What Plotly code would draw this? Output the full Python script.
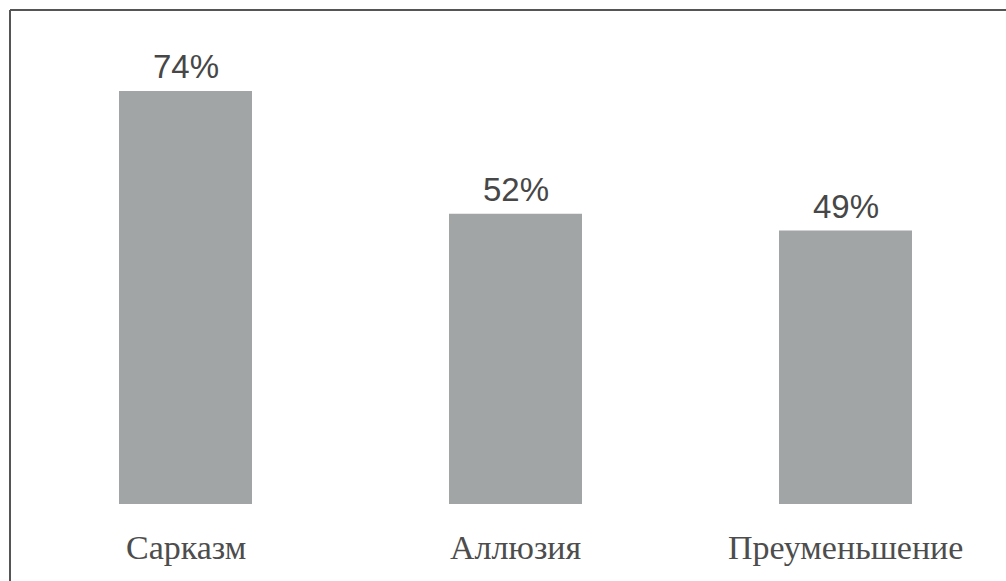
import plotly.graph_objects as go

categories = ["Сарказм", "Аллюзия", "Преуменьшение"]
values = [74, 52, 49]
value_labels = ["74%", "52%", "49%"]

W, H = 1006, 581
BAR_COLOR = "#A2A5A5"
TEXT_COLOR = "#474747"

# pixel geometry of the axes
base_px = 504.0          # y pixel of value 0
px_per_unit = 5.58       # pixels per percentage point
first_center_px = 185.5  # x pixel of first category
step_px = 330.0          # pixels between categories

y_top = base_px / px_per_unit
y_bot = -(H - base_px) / px_per_unit
x_left = -first_center_px / step_px
x_right = (W - first_center_px) / step_px

fig = go.Figure()
fig.add_trace(go.Bar(
    x=list(range(len(categories))),
    y=values,
    width=133 / step_px,
    marker=dict(color=BAR_COLOR, line=dict(width=0)),
    hoverinfo="skip",
))

for i, (v, lab) in enumerate(zip(values, value_labels)):
    fig.add_annotation(x=i, y=v, text=lab, showarrow=False, xref="x", yref="y",
                       yanchor="bottom", yshift=4,
                       font=dict(family="Liberation Sans, Arial, sans-serif", size=33, color=TEXT_COLOR))

for i, c in enumerate(categories):
    fig.add_annotation(x=i, y=1 - 547 / H, text=c, showarrow=False, xref="x", yref="paper",
                       yanchor="middle",
                       font=dict(family="Liberation Serif, Times New Roman, serif", size=34, color="#4d4d4d"))

# frame (top and left visible)
fig.add_shape(type="line", xref="paper", yref="paper", x0=10 / W, x1=1.02, y0=1 - 10 / H, y1=1 - 10 / H,
              line=dict(color="#555555", width=2))
fig.add_shape(type="line", xref="paper", yref="paper", x0=10 / W, x1=10 / W, y0=1 - 10 / H, y1=-0.02,
              line=dict(color="#555555", width=2))

fig.update_layout(
    width=W, height=H,
    margin=dict(l=0, r=0, t=0, b=0),
    paper_bgcolor="white", plot_bgcolor="white",
    showlegend=False,
    xaxis=dict(range=[x_left, x_right], visible=False, fixedrange=True),
    yaxis=dict(range=[y_bot, y_top], visible=False, fixedrange=True),
)

fig.write_html("out.html", config={"displayModeBar": False})
